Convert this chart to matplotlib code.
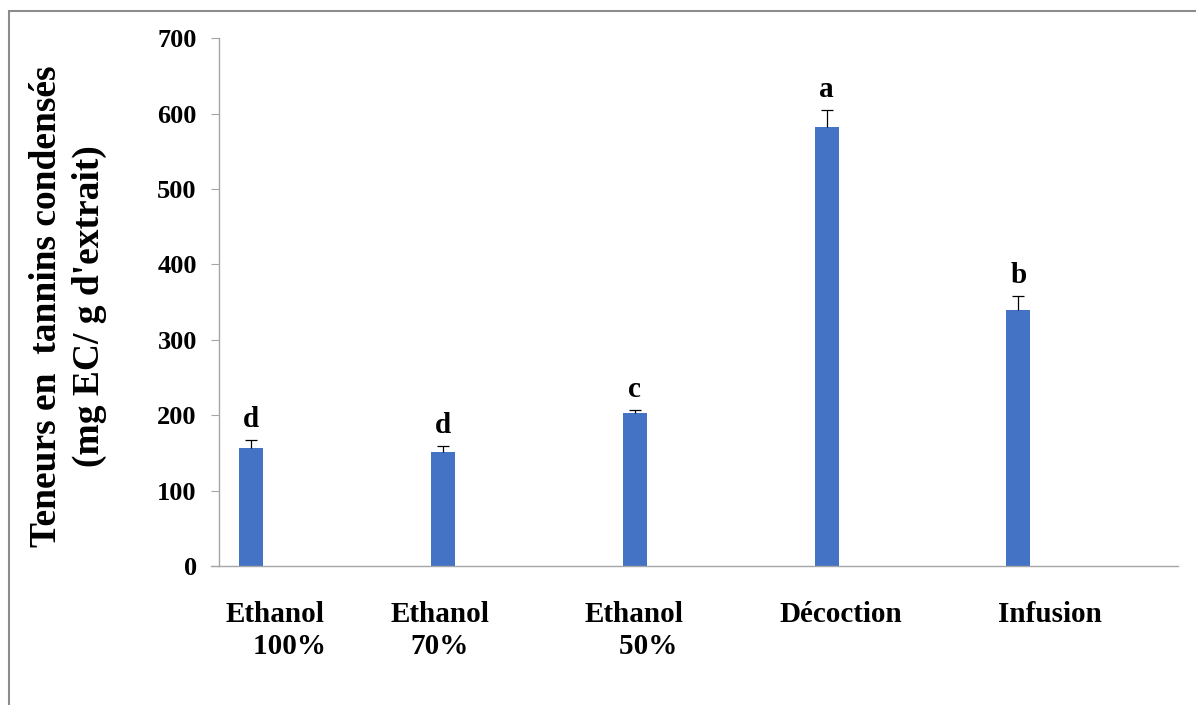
import numpy as np
import matplotlib
matplotlib.use("Agg")
import matplotlib.pyplot as plt
from matplotlib.patches import Rectangle

# donnees
categories = ["Ethanol\n    100%", "Ethanol\n70%", "Ethanol\n    50%", "Décoction", "Infusion"]
teneurs = [157, 151, 203, 582, 339]
erreurs = [10, 8, 4, 23, 19]
lettres = ["d", "d", "c", "a", "b"]

# positions (en unites de categorie)
bar_x = np.arange(len(teneurs)) + 0.167
label_x = [0.292, 1.152, 2.164, 3.243, 4.333]

plt.rcParams['font.family'] = ['Liberation Serif', 'DejaVu Serif']
plt.rcParams['font.weight'] = 'bold'

fig = plt.figure(figsize=(11.96, 7.05), dpi=100)
ax = fig.add_axes([0.1831, 0.197, 0.802, 0.749])

ax.bar(bar_x, teneurs, width=0.125, color='#4472C4', zorder=2)
eb = ax.errorbar(bar_x, teneurs, yerr=[np.zeros(len(erreurs)), erreurs], fmt='none',
                 ecolor='black', elinewidth=0.9, capsize=4, capthick=0.9, zorder=3)
# pas de barre en bas, seulement la moustache du haut
eb[1][0].set_visible(False)

for x, v, e, l in zip(bar_x, teneurs, erreurs, lettres):
    ax.annotate(l, (x, v + e), xytext=(0, 5), textcoords='offset points',
                ha='center', va='bottom', fontsize=21, fontweight='bold')

ax.set_xlim(0, 5)
ax.set_ylim(0, 700)
ax.set_yticks(np.arange(0, 701, 100))
ax.tick_params(axis='y', length=6, color='#a6a6a6', pad=10, labelsize=19)
ax.set_xticks(label_x)
ax.tick_params(axis='x', length=0, pad=25, labelsize=21)
ax.set_xticklabels(categories, fontsize=21, fontweight='bold',
                   multialignment='center', linespacing=1.25)

for s in ['top', 'right']:
    ax.spines[s].set_visible(False)
for s in ['left', 'bottom']:
    ax.spines[s].set_color('#a6a6a6')
    ax.spines[s].set_linewidth(1)
ax.spines['bottom'].set_bounds(-0.04, 5)

fig.text(0.057, 0.566, "Teneurs en  tannins condensés\n(mg EC/ g d'extrait)",
         rotation=90, ha='center', va='center', fontsize=27, fontweight='bold',
         multialignment='center', linespacing=1.3)

# cadre gris autour du graphique
fig.patches.append(Rectangle((0.0075, -0.1), 1.2, 1.084, transform=fig.transFigure,
                             fill=False, edgecolor='#8c8c8c', linewidth=1.5))

fig.savefig("out.png", dpi=100)
